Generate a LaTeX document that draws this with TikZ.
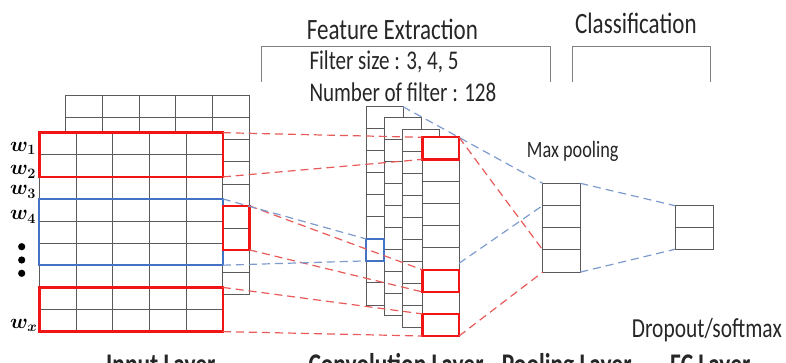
\documentclass[tikz,border=0pt]{standalone}
\usepackage{bm}
\usepackage{fontspec}
\newfontfamily\labfont{Carlito}[FakeStretch=0.78]
\usetikzlibrary{calc}
\definecolor{gridc}{RGB}{90,90,90}
\definecolor{redc}{RGB}{240,20,20}
\definecolor{bluec}{RGB}{68,114,196}
\definecolor{rdashc}{RGB}{232,90,90}
\definecolor{bdashc}{RGB}{125,155,205}
\definecolor{brc}{RGB}{128,128,128}
\tikzset{
  gridbox/.style={draw=gridc, line width=0.9pt, fill=white, inner sep=0pt, outer sep=0pt, anchor=north west},
  gridline/.style={draw=gridc, line width=0.9pt},
  redbox/.style={draw=redc, line width=2.4pt, inner sep=0pt, outer sep=0pt, anchor=north west},
  bluebox/.style={draw=bluec, line width=2.2pt, inner sep=0pt, outer sep=0pt, anchor=north west},
  rdash/.style={draw=rdashc, line width=1.2pt, dash pattern=on 8pt off 5pt},
  bdash/.style={draw=bdashc, line width=1.2pt, dash pattern=on 8pt off 5pt},
  bracket/.style={draw=brc, line width=0.9pt},
  lab/.style={inner sep=0pt, anchor=base west, text=black!85},
  wlab/.style={inner sep=0pt, anchor=base west, font=\fontsize{20.74}{24}\selectfont},
}
\newcommand\mygrid[7]{% name, x, y, ncols, nrows, cw, rh
  \node[gridbox, minimum width={#4*#6pt}, minimum height={#5*#7pt}] (#1) at (#2,#3) {};
  \pgfmathtruncatemacro\mgc{#4-1}%
  \pgfmathtruncatemacro\mgr{#5-1}%
  \ifnum\mgc>0
    \foreach \i in {1,...,\mgc} \draw[gridline] ($(#1.north west)+(\i*#6,0)$) -- ($(#1.south west)+(\i*#6,0)$);
  \fi
  \foreach \i in {1,...,\mgr} \draw[gridline] ($(#1.north west)+(0,\i*#7)$) -- ($(#1.north east)+(0,\i*#7)$);
}
\begin{document}
\begin{tikzpicture}[x=1pt,y=-1pt]
\useasboundingbox (0,0) rectangle (786,363);

% ---- headings and brackets
\node[lab, font={\labfont\fontsize{29.5}{31}\selectfont}] (fe) at (306.7,40) {Feature Extraction};
\node[lab, font={\labfont\fontsize{29.5}{31}\selectfont}] (cl) at (575,33.5) {Classification};
\coordinate (fb1) at (261.7,81.7);
\coordinate (fb2) at (261.7,46);
\coordinate (fb3) at (550,46);
\coordinate (fb4) at (550,81.7);
\draw[bracket] (fb1) -- (fb2) -- (fb3) -- (fb4);
\coordinate (cb1) at (572.7,81.7);
\coordinate (cb2) at (572.7,46);
\coordinate (cb3) at (710,46);
\coordinate (cb4) at (710,81.7);
\draw[bracket] (cb1) -- (cb2) -- (cb3) -- (cb4);
\node[lab, font={\labfont\fontsize{27}{29}\selectfont}] (fs) at (309.3,70) {Filter size : 3, 4, 5};
\node[lab, font={\labfont\fontsize{27}{29}\selectfont}] (nf) at (309.3,102) {Number of filter : 128};

% ---- input layer
\mygrid{inback}{65.7}{95.7}{5}{9}{36.7}{22.07}
\mygrid{infront}{39.3}{132.7}{5}{9}{36.7}{22.1}
\node[redbox, minimum width=183.5pt, minimum height=44.2pt] (r1) at (39.3,132.7) {};
\node[bluebox, minimum width=183.5pt, minimum height=66.3pt] (bb) at (39.3,198.9) {};
\node[redbox, minimum width=183.5pt, minimum height=44.2pt] (r3) at (39.3,287.4) {};
\node[redbox, minimum width=26.5pt, minimum height=44.1pt] (rs) at (222.8,205.8) {};

\node[wlab] (w1) at (10,151.7) {$\bm{w}_{\bm{1}}$};
\node[wlab] (w2) at (10,175) {$\bm{w}_{\bm{2}}$};
\node[wlab] (w3) at (10,195) {$\bm{w}_{\bm{3}}$};
\node[wlab] (w4) at (10,220) {$\bm{w}_{\bm{4}}$};
\node[wlab] (wx) at (10,328.3) {$\bm{w}_{\bm{x}}$};
\fill (21.7,246.7) circle (3.6pt);
\fill (21.7,260) circle (3.6pt);
\fill (21.7,273.3) circle (3.6pt);

% ---- convolution layer
\mygrid{col1}{366}{106.7}{1}{9}{37}{22.03}
\mygrid{col2}{384.3}{117.3}{1}{9}{37}{22.0}
\mygrid{col3}{402.7}{129}{1}{9}{37}{22.0}
\mygrid{col4}{422.3}{137.3}{1}{9}{36.7}{22.08}
\node[redbox, minimum width=36.7pt, minimum height=22.1pt] (c4r1) at (422.3,137.3) {};
\node[redbox, minimum width=36.7pt, minimum height=22.1pt] (c4r2) at (422.3,269.8) {};
\node[redbox, minimum width=36.7pt, minimum height=22.1pt] (c4r3) at (422.3,313.9) {};
\node[bluebox, minimum width=18.3pt, minimum height=22pt] (cbx) at (366,238.9) {};

% ---- pooling and FC
\mygrid{pool}{542.7}{183.3}{1}{4}{37.6}{22.2}
\mygrid{fc}{675}{205.7}{1}{2}{38.3}{21.8}
\node[lab, font={\labfont\fontsize{23.4}{25}\selectfont}] (mp) at (526.7,157.3) {Max pooling};
\node[lab, font={\labfont\fontsize{27.5}{29}\selectfont}] (ds) at (631.7,337.5) {Dropout/softmax};

\coordinate (c4b) at ($(col4.north east)+(0,126)$);
\coordinate (pl1) at ($(pool.north west)+(0,22.2)$);
\coordinate (pl3) at ($(pool.north west)+(0,66.6)$);

% ---- dashed connectors
\draw[rdash] (r1.north east) -- (c4r1.north west);
\draw[rdash] (r1.south east) -- (c4r1.south west);
\draw[rdash] (rs.north east) -- (c4r2.north west);
\draw[rdash] (rs.south east) -- (c4r2.south west);
\draw[rdash] (r3.north east) -- (c4r3.north west);
\draw[rdash] (r3.south east) -- (c4r3.south west);
\draw[bdash] (bb.north east) -- (cbx.north west);
\draw[bdash] (bb.south east) -- (cbx.south west);
\draw[bdash] (col1.north east) -- (pool.north west);
\draw[bdash] (c4b) -- (pl1);
\draw[rdash] (c4r1.north east) -- (pl3);
\draw[rdash] (c4r3.south east) -- (pool.south west);
\draw[bdash] (pool.north east) -- (fc.north west);
\draw[bdash] (pool.south east) -- (fc.south west);

% ---- bottom labels (cut by the lower edge, as in the reference)
\node[lab, font={\labfont\bfseries\fontsize{30}{32}\selectfont}] (il) at (106,374.5) {Input Layer};
\node[lab, font={\labfont\bfseries\fontsize{30}{32}\selectfont}] (cvl) at (308.3,374.5) {Convolution Layer};
\node[lab, font={\labfont\bfseries\fontsize{30}{32}\selectfont}] (pll) at (501.7,374.5) {Pooling Layer};
\node[lab, font={\labfont\bfseries\fontsize{30}{32}\selectfont}] (fcl) at (670,374.5) {FC Layer};
\end{tikzpicture}
\end{document}
